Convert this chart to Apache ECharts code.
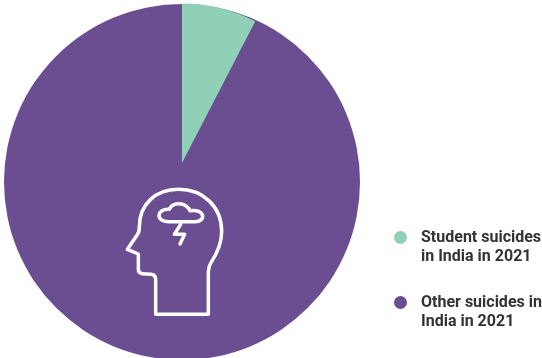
<!DOCTYPE html>
<html>
<head>
<meta charset="utf-8">
<style>html,body{margin:0;padding:0;background:#fff}#chart{width:542px;height:358px}</style>
<script src="https://cdn.jsdelivr.net/npm/echarts@6/dist/echarts.min.js"></script>
</head>
<body>
<div id="chart"></div>
<script>
// Share of student suicides among all suicides in India, 2021 (percent)
const categories = ['Student suicides\nin India in 2021', 'Other suicides in\nIndia in 2021'];
const shares = [7.6, 92.4];
const colors = ['#8fd0b6', '#6b4d91'];

// Head outline with a storm cloud, drawn in a 390x480 icon box
const headIcon =
  'M137 433 L137 328 Q137 314 122 313 L97 311 Q85 310 85 298 L85 252 L52 238 L82 194 Q88 186 88 170 ' +
  'C88 105 135 58 205 58 C280 58 335 110 335 185 C335 225 318 255 303 278 Q295 290 295 305 L295 433 Z ' +
  'M175 155 C135 155 140 115 178 118 C190 92 228 98 240 122 C285 115 290 155 255 155 Z ' +
  'M212 163 L193 193 L224 193 L210 222';

echarts.graphic.registerShape('headIcon', echarts.graphic.extendPath(headIcon, {}));

const chart = echarts.init(document.getElementById('chart'));
chart.setOption({
  animation: false,
  legend: {
    orient: 'vertical',
    left: 394,
    top: 209,
    padding: 0,
    itemWidth: 13,
    itemHeight: 13,
    itemGap: 8,
    icon: 'circle',
    selectedMode: false,
    // the blank leading line keeps each marker level with the first text line
    formatter: name => '\n' + name,
    data: categories.map((name, i) => ({ name, itemStyle: { color: colors[i] } })),
    textStyle: {
      fontFamily: 'Roboto',
      fontWeight: 'bold',
      fontSize: 16,
      lineHeight: 19,
      color: '#333333',
      padding: [0, 0, 0, 9]
    }
  },
  series: [
    {
      // Full disc behind the highlighted wedge
      type: 'pie',
      silent: true,
      center: [182, 182],
      radius: [0, 178],
      label: { show: false },
      labelLine: { show: false },
      data: [{ name: categories[1], value: shares[1], itemStyle: { color: colors[1] } }]
    },
    {
      type: 'pie',
      silent: true,
      center: [182, 163],
      radius: [0, 159.5],
      startAngle: 90,
      clockwise: true,
      label: { show: false },
      labelLine: { show: false },
      data: [
        { name: categories[0], value: shares[0], itemStyle: { color: colors[0] } },
        { name: categories[1], value: shares[1], itemStyle: { color: 'transparent' } }
      ]
    }
  ],
  graphic: [{
    type: 'headIcon',
    silent: true,
    z: 100,
    x: 110,
    y: 170,
    scaleX: 1 / 3,
    scaleY: 1 / 3,
    style: { fill: 'none', stroke: '#ffffff', lineWidth: 10.5, lineJoin: 'round', lineCap: 'round' }
  }]
});
</script>
</body>
</html>
